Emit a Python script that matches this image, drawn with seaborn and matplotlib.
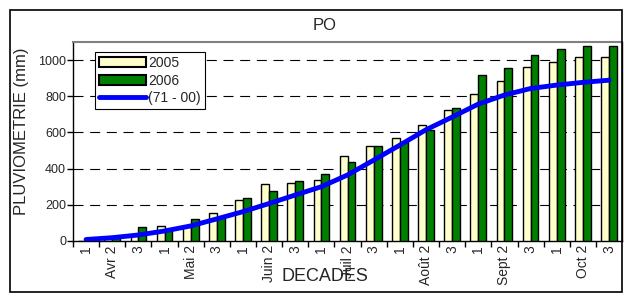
'''
Cumulative decadal rainfall at PO, 2005 and 2006 against the 71-00 normal
'''

import matplotlib
matplotlib.use('Agg')
import matplotlib.pyplot as plt
from matplotlib.patches import Rectangle, Patch
from matplotlib.lines import Line2D
import pandas as pd
import seaborn as sns

sns.set_style('ticks')
plt.rcParams['font.family'] = ['Liberation Sans', 'DejaVu Sans']

# data
decades = ['1', 'Avr 2', '3', '1', 'Mai 2', '3', '1', 'Juin 2', '3',
           '1', 'Juil 2', '3', '1', 'Août 2', '3', '1', 'Sept 2', '3',
           '1', 'Oct 2', '3']
pluie_2005 = [2, 12, 33, 85, 80, 157, 227, 315, 319, 337, 472, 526,
              572, 640, 724, 814, 884, 963, 991, 1018, 1018]
pluie_2006 = [2, 15, 76, 62, 123, 134, 240, 277, 334, 370, 434, 526,
              548, 613, 737, 917, 956, 1026, 1059, 1079, 1079]
normale = [8, 18, 33, 55, 83, 122, 162, 207, 254, 300, 365, 447,
           530, 615, 685, 757, 807, 843, 862, 877, 889]

pos = list(range(len(decades)))
df = pd.DataFrame({
    'pos': pos * 2,
    'pluie': pluie_2005 + pluie_2006,
    'annee': ['2005'] * len(pos) + ['2006'] * len(pos),
})

col_2005 = '#FFFFCC'
col_2006 = '#008000'

fig = plt.figure(figsize=(6.24, 2.96), dpi=100)
ax = fig.add_axes([0.117, 0.186, 0.880, 0.672])

#bars
sns.barplot(data=df, x='pos', y='pluie', hue='annee', palette=[col_2005, col_2006],
            edgecolor='black', linewidth=1.0, width=0.6, saturation=1, ax=ax, zorder=3)
#normal
sns.lineplot(x=pos, y=normale, color='blue', lw=3.5, ax=ax, zorder=4)

ax.set_xlim(-0.5, len(pos) - 0.5)
ax.set_ylim(0, 1100)
ax.set_yticks([0, 200, 400, 600, 800, 1000])
for v in [200, 400, 600, 800, 1000]:
    ax.axhline(v, color='black', lw=0.8, ls=(0, (9, 6)), zorder=1)

ax.set_xticks(pos)
ax.set_xticklabels(decades, rotation=90, fontsize=10)
ax.set_xticks([p + 0.5 for p in pos[:-1]] + [-0.5], minor=True)
ax.tick_params(axis='x', which='major', length=0, pad=3)
ax.tick_params(axis='x', which='minor', length=4, width=1, direction='out', color='black')
ax.tick_params(axis='y', length=4, width=1, direction='out', color='black', labelsize=9, pad=1)

for side in ['left', 'bottom', 'right']:
    ax.spines[side].set_color('black')
    ax.spines[side].set_linewidth(1.0)
ax.spines['top'].set_color('#808080')
ax.spines['top'].set_linewidth(1.5)

ax.set_ylabel('PLUVIOMETRIE (mm)', fontsize=12, va='center')
ax.yaxis.set_label_coords(-0.093, 0.553)
ax.set_xlabel('DECADES', fontsize=13, va='center')
ax.xaxis.set_label_coords(0.459, -0.18)

handles = [Patch(facecolor=col_2005, edgecolor='black', lw=1.5),
           Patch(facecolor=col_2006, edgecolor='black', lw=1.5),
           Line2D([], [], color='blue', lw=3.5)]
leg = ax.legend(handles, ['2005', '2006', '(71 - 00)'], loc='upper left',
                bbox_to_anchor=(0.040, 0.950), borderaxespad=0, fontsize=10,
                fancybox=False, edgecolor='black', framealpha=1,
                handlelength=3.4, handletextpad=0.1, labelspacing=0.25,
                borderpad=0.3)
leg.get_frame().set_linewidth(0.8)

fig.text(325 / 624, 1 - 26 / 296, 'PO', ha='center', va='center', fontsize=12)
fig.patches.append(Rectangle((10 / 624, 4 / 296), 612 / 624, 282 / 296,
                             transform=fig.transFigure, fill=False,
                             edgecolor='black', lw=1.2))

fig.savefig('out.png', dpi=100)
